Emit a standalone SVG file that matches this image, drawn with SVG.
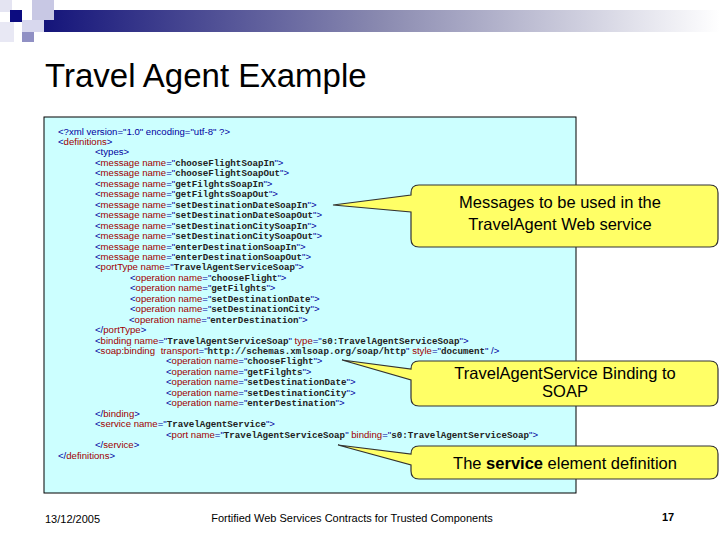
<svg xmlns="http://www.w3.org/2000/svg" width="720" height="540" viewBox="0 0 720 540">
<style>
.c{font-family:"Liberation Sans",Arial,sans-serif;font-size:9.6px;fill:#0000a0}
.r{fill:#a00000}
.v{font-family:"Liberation Mono","Courier New",monospace;font-size:9.2px;font-weight:bold;fill:#222}
.co{fill:#ffff66;stroke:#333;stroke-width:1.2}
.ct{font-family:"Liberation Sans",Arial,sans-serif;font-size:16.5px;fill:#000;text-anchor:middle}
.ft{font-family:"Liberation Sans",Arial,sans-serif;font-size:11px;fill:#000}
</style>
<defs>
<linearGradient id="g" x1="0" x2="1" y1="0" y2="0">
<stop offset="0" stop-color="#14147a"/><stop offset="0.5" stop-color="#8a8ab0"/><stop offset="1" stop-color="#ffffff"/>
</linearGradient>
</defs>
<rect width="720" height="540" fill="#fff"/>
<g id="header">
<rect x="43" y="10" width="677" height="22" fill="url(#g)"/>
<rect x="0" y="0" width="12" height="12" fill="#e4e4f2"/>
<rect x="10" y="10" width="12" height="12" fill="#0c0c80"/>
<rect x="32" y="0" width="22" height="20" fill="#c8c8e4"/>
<rect x="22" y="20" width="22" height="12" fill="#d8d8ee"/>
<rect x="0" y="22" width="14" height="20" fill="#e8e8f4"/>
<rect x="22" y="32" width="12" height="10" fill="#9090c4"/>
</g>
<text x="45" y="87" font-family="Liberation Sans,Arial,sans-serif" font-size="33" fill="#000">Travel Agent Example</text>
<g id="code">
<rect x="44" y="117" width="532" height="376" fill="#ccffff" stroke="#000" stroke-width="1"/>
<text class="c" x="58" y="134.5">&lt;?xml version="1.0" encoding="utf-8" ?&gt;</text>
<text class="c" x="58" y="145">&lt;<tspan class="r">definitions</tspan>&gt;</text>
<text class="c" x="95" y="155.4">&lt;types&gt;</text>
<text class="c" x="95" y="165.9">&lt;<tspan class="r">message name</tspan>="<tspan class="v">chooseFlightSoapIn</tspan>"&gt;</text>
<text class="c" x="95" y="176.3">&lt;<tspan class="r">message name</tspan>="<tspan class="v">chooseFlightSoapOut</tspan>"&gt;</text>
<text class="c" x="95" y="186.8">&lt;<tspan class="r">message name</tspan>="<tspan class="v">getFilghtsSoapIn</tspan>"&gt;</text>
<text class="c" x="95" y="197.2">&lt;<tspan class="r">message name</tspan>="<tspan class="v">getFilghtsSoapOut</tspan>"&gt;</text>
<text class="c" x="95" y="207.7">&lt;<tspan class="r">message name</tspan>="<tspan class="v">setDestinationDateSoapIn</tspan>"&gt;</text>
<text class="c" x="95" y="218.1">&lt;<tspan class="r">message name</tspan>="<tspan class="v">setDestinationDateSoapOut</tspan>"&gt;</text>
<text class="c" x="95" y="228.6">&lt;<tspan class="r">message name</tspan>="<tspan class="v">setDestinationCitySoapIn</tspan>"&gt;</text>
<text class="c" x="95" y="239">&lt;<tspan class="r">message name</tspan>="<tspan class="v">setDestinationCitySoapOut</tspan>"&gt;</text>
<text class="c" x="95" y="249.5">&lt;<tspan class="r">message name</tspan>="<tspan class="v">enterDestinationSoapIn</tspan>"&gt;</text>
<text class="c" x="95" y="259.9">&lt;<tspan class="r">message name</tspan>="<tspan class="v">enterDestinationSoapOut</tspan>"&gt;</text>
<text class="c" x="95" y="270.4">&lt;<tspan class="r">portType name</tspan>="<tspan class="v">TravelAgentServiceSoap</tspan>"&gt;</text>
<text class="c" x="130" y="280.8">&lt;<tspan class="r">operation name</tspan>="<tspan class="v">chooseFlight</tspan>"&gt;</text>
<text class="c" x="130" y="291.3">&lt;<tspan class="r">operation name</tspan>="<tspan class="v">getFilghts</tspan>"&gt;</text>
<text class="c" x="130" y="301.7">&lt;<tspan class="r">operation name</tspan>="<tspan class="v">setDestinationDate</tspan>"&gt;</text>
<text class="c" x="130" y="312.2">&lt;<tspan class="r">operation name</tspan>="<tspan class="v">setDestinationCity</tspan>"&gt;</text>
<text class="c" x="129" y="322.6">&lt;<tspan class="r">operation name</tspan>="<tspan class="v">enterDestination</tspan>"&gt;</text>
<text class="c" x="95" y="333.1">&lt;/<tspan class="r">portType</tspan>&gt;</text>
<text class="c" x="95" y="343.5">&lt;<tspan class="r">binding name</tspan>="<tspan class="v">TravelAgentServiceSoap</tspan>" <tspan class="r">type</tspan>="<tspan class="v">s0:TravelAgentServiceSoap</tspan>"&gt;</text>
<text class="c" x="95" y="354">&lt;<tspan class="r">soap:binding</tspan>  <tspan class="r" dx="3">transport</tspan>="<tspan class="v">http://schemas.xmlsoap.org/soap/http</tspan>" <tspan class="r">style</tspan>="<tspan class="v">document</tspan>" /&gt;</text>
<text class="c" x="166" y="364.4">&lt;<tspan class="r">operation name</tspan>="<tspan class="v">chooseFlight</tspan>"&gt;</text>
<text class="c" x="166" y="374.9">&lt;<tspan class="r">operation name</tspan>="<tspan class="v">getFilghts</tspan>"&gt;</text>
<text class="c" x="166" y="385.3">&lt;<tspan class="r">operation name</tspan>="<tspan class="v">setDestinationDate</tspan>"&gt;</text>
<text class="c" x="166" y="395.8">&lt;<tspan class="r">operation name</tspan>="<tspan class="v">setDestinationCity</tspan>"&gt;</text>
<text class="c" x="166" y="406.2">&lt;<tspan class="r">operation name</tspan>="<tspan class="v">enterDestination</tspan>"&gt;</text>
<text class="c" x="95" y="416.7">&lt;/<tspan class="r">binding</tspan>&gt;</text>
<text class="c" x="95" y="427.1">&lt;<tspan class="r">service name</tspan>="<tspan class="v">TravelAgentService</tspan>"&gt;</text>
<text class="c" x="166" y="437.6">&lt;<tspan class="r">port name</tspan>="<tspan class="v">TravelAgentServiceSoap</tspan>" <tspan class="r">binding</tspan>="<tspan class="v">s0:TravelAgentServiceSoap</tspan>"&gt;</text>
<text class="c" x="95" y="448">&lt;/<tspan class="r">service</tspan>&gt;</text>
<text class="c" x="58" y="458.5">&lt;/<tspan class="r">definitions</tspan>&gt;</text>
</g>
<g id="callout-messages">
<path class="co" d="M419,185 H710 Q718,185 718,193 V239 Q718,247 710,247 H419 Q411,247 411,239 V212 L333,205 L411,195 V193 Q411,185 419,185 Z"/>
<text class="ct" x="560" y="208">Messages to be used in the</text>
<text class="ct" x="560" y="230">TravelAgent Web service</text>
</g>
<g id="callout-binding">
<path class="co" d="M419,361 H710 Q718,361 718,369 V398 Q718,406 710,406 H419 Q411,406 411,398 V380 L342,360 L411,369 Q411,361 419,361 Z"/>
<text class="ct" x="565" y="379">TravelAgentService Binding to</text>
<text class="ct" x="565" y="397">SOAP</text>
</g>
<g id="callout-service">
<path class="co" d="M419,446 H710 Q718,446 718,454 V471 Q718,479 710,479 H419 Q411,479 411,471 V465 L338,445 L411,454 Q411,446 419,446 Z"/>
<text class="ct" x="565" y="469">The <tspan font-weight="bold">service</tspan> element definition</text>
</g>
<g id="footer">
<text class="ft" x="45" y="523">13/12/2005</text>
<text class="ft" x="352" y="522" text-anchor="middle">Fortified Web Services Contracts for Trusted Components</text>
<text class="ft" x="668" y="521" text-anchor="middle" font-weight="bold" font-size="13">17</text>
</g>
</svg>
